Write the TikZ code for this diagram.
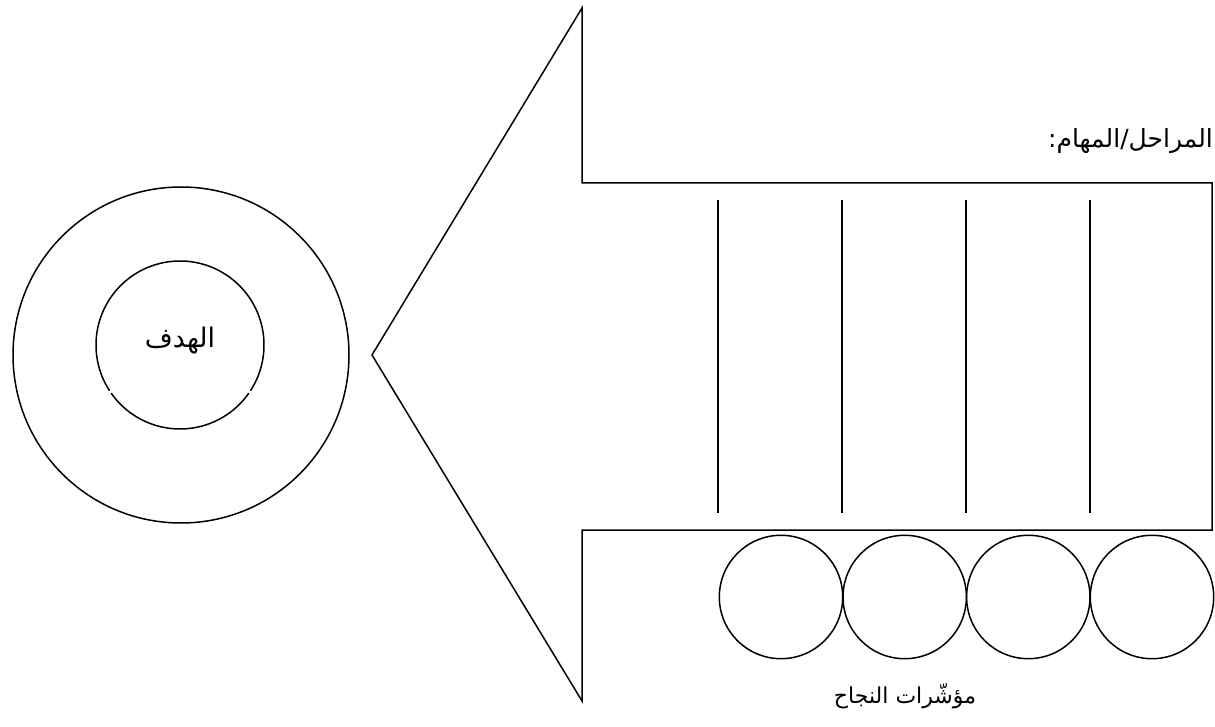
\documentclass[tikz,border=0pt]{standalone}
\usepackage{fontspec}
\newfontfamily\arabicfont[Script=Arabic]{DejaVu Sans}
\TeXXeTstate=1
\usetikzlibrary{positioning}
\tikzset{
  obris/.style={draw=black,line width=1.5pt},
  krug/.style={circle,draw=black,line width=1.5pt,inner sep=0pt,minimum size=123.4pt},
  natpis/.style={font=\arabicfont\fontsize{25}{30}\selectfont,inner sep=0pt},
}

\begin{document}
\begin{tikzpicture}[x=1pt,y=1pt]
  \useasboundingbox (0,0) rectangle (1215,726);

  % ---------- STRELICA ----------
  \draw[obris,line join=miter] (582,543) -- (1212,543) -- (1212,196) -- (582,196)
        -- (582,25) -- (372,371) -- (582,718) -- cycle;

  % ---------- PREGRADE ----------
  \draw[obris] (718,526) -- (718,213);
  \draw[obris] (842,526) -- (842,213);
  \draw[obris] (966,526) -- (966,213);
  \draw[obris] (1090,526) -- (1090,213);

  % ---------- META ----------
  \node[circle,draw=black,line width=1.5pt,minimum size=336pt] (spolja) at (181,371) {};
  \coordinate (centar) at (180,381);
  % unutrasnji krug u dva luka, sa malim prekidima dole
  \draw[obris] (centar) ++(-33:84) arc[start angle=-33,end angle=213,radius=84pt];
  \draw[obris] (centar) ++(215:84) arc[start angle=215,end angle=325,radius=84pt];
  \node[natpis,font=\arabicfont\fontsize{27}{32}\selectfont] (cilj) at (180,385) {\beginR الهدف\endR};

  % ---------- POKAZATELJI ----------
  \node[krug] (pok1) at (781,129) {};
  \node[krug] (pok2) at (904.7,129) {};
  \node[krug] (pok3) at (1028.3,129) {};
  \node[krug] (pok4) at (1152,129) {};

  % ---------- NATPISI ----------
  \node[natpis,anchor=east] (faze) at (1213,585) {\beginR المراحل/المهام:\endR};
  \node[natpis,font=\arabicfont\fontsize{22}{27}\selectfont] (uspeh) at (905,30) {\beginR مؤشّرات النجاح\endR};

\end{tikzpicture}
\end{document}
